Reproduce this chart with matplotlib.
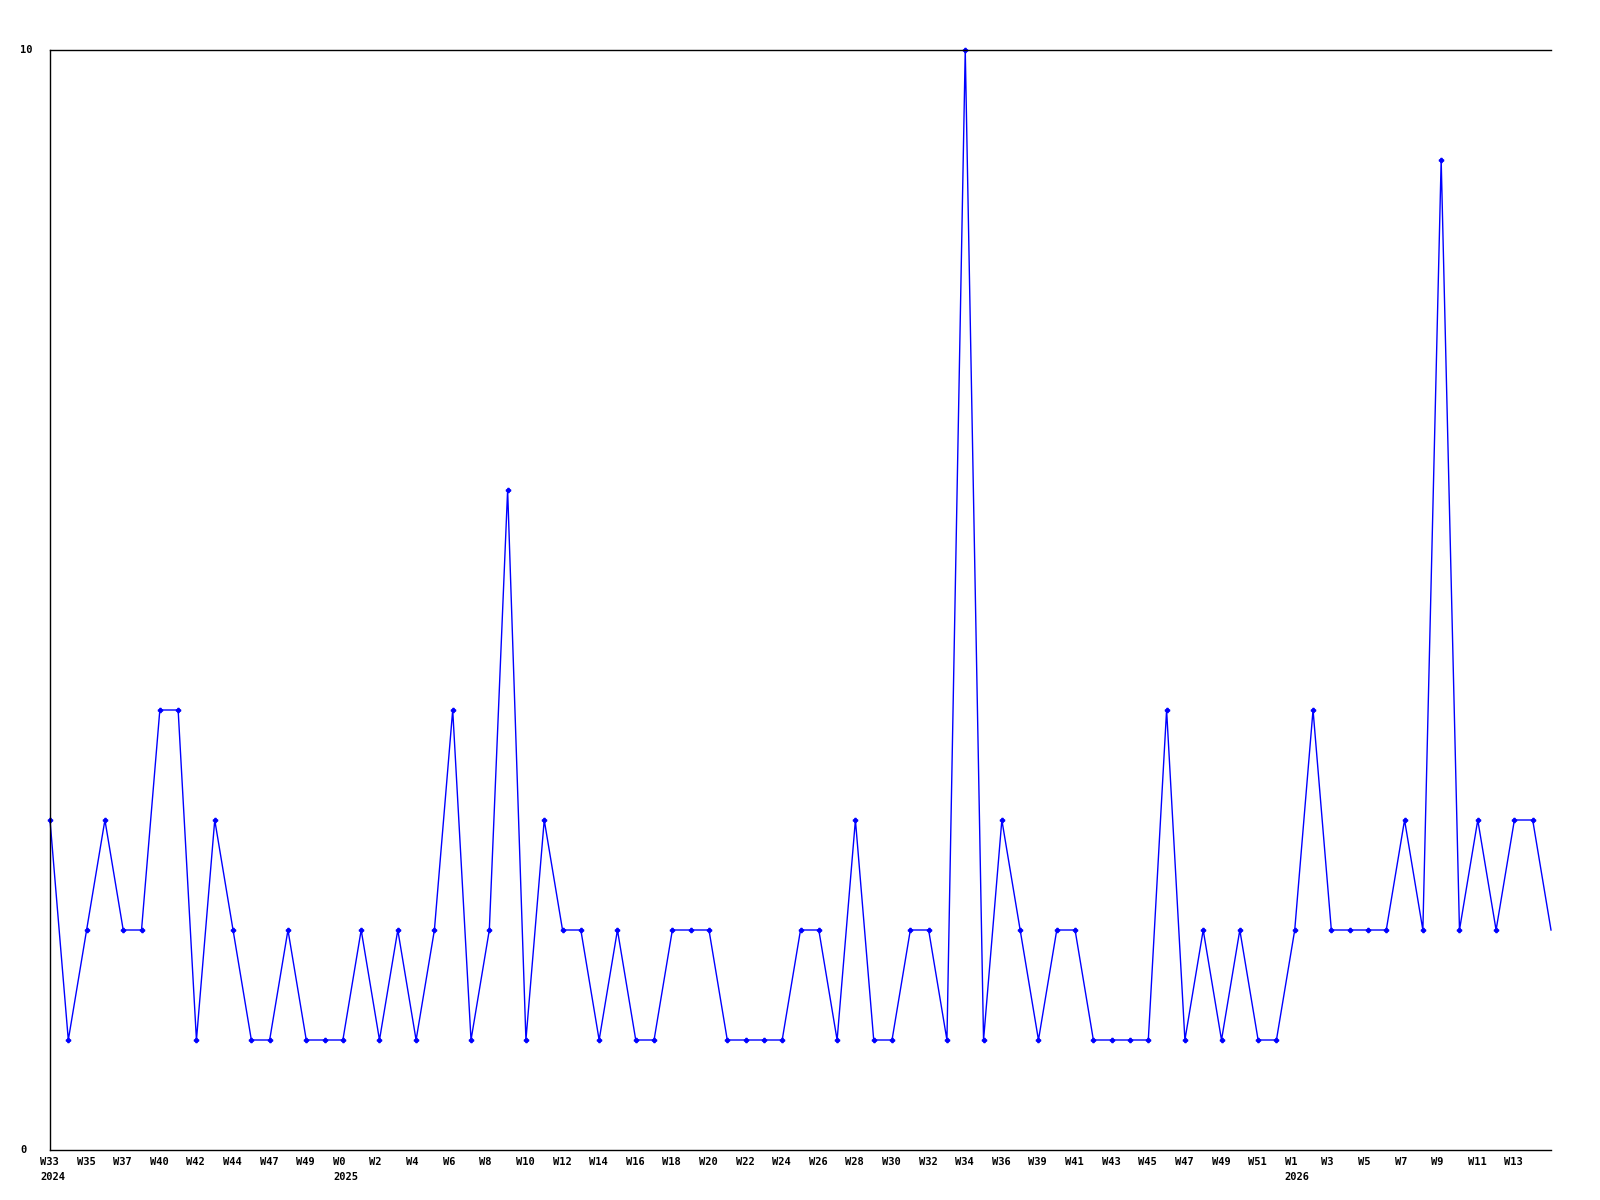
import matplotlib
matplotlib.use("Agg")
import matplotlib.pyplot as plt
import matplotlib.transforms as mtransforms

# weekly counts, W33 2024 .. W14 2026
counts = [3, 1, 2, 3, 2, 2, 4, 4, 1, 3,
          2, 1, 1, 2, 1, 1, 1, 2, 1, 2,
          1, 2, 4, 1, 2, 6, 1, 3, 2, 2,
          1, 2, 1, 1, 2, 2, 2, 1, 1, 1,
          1, 2, 2, 1, 3, 1, 1, 2, 2, 1,
          10, 1, 3, 2, 1, 2, 2, 1, 1, 1,
          1, 4, 1, 2, 1, 2, 1, 1, 2, 4,
          2, 2, 2, 2, 3, 2, 9, 2, 3, 2,
          3, 3, 2]

# one label every second week
week_labels = ["W33", "W35", "W37", "W40", "W42", "W44", "W47", "W49", "W0", "W2",
               "W4", "W6", "W8", "W10", "W12", "W14", "W16", "W18", "W20", "W22",
               "W24", "W26", "W28", "W30", "W32", "W34", "W36", "W39", "W41", "W43",
               "W45", "W47", "W49", "W51", "W1", "W3", "W5", "W7", "W9", "W11", "W13"]
# label index -> year shown under it
year_labels = {0: "2024", 8: "2025", 34: "2026"}

y_labels = ["0", "10"]

font = dict(family="DejaVu Sans Mono", fontweight="bold", fontsize=7.5)

fig = plt.figure(figsize=(16, 12), dpi=100)
ax = fig.add_axes([50 / 1600, 50 / 1200, 1501 / 1600, 1100 / 1200])

x = list(range(len(counts)))
ax.plot(x, counts, color="#0000ff", lw=1, marker="P", ms=3,
        markevery=list(range(len(counts) - 1)), clip_on=False)

ax.set_xlim(0, len(counts) - 1)
ax.set_ylim(0, 10)
ax.set_xticks([])
ax.set_yticks([])
ax.spines["right"].set_visible(False)
for s in ["left", "bottom", "top"]:
    ax.spines[s].set_linewidth(1)

# x labels, left aligned a bit before each point
trans = mtransforms.blended_transform_factory(ax.transData, ax.transAxes)
off = mtransforms.offset_copy(trans, fig=fig, x=-10, y=0, units="dots")
for k, lab in enumerate(week_labels):
    ax.text(2 * k, -12 / 1100, lab, transform=off, ha="left", va="center", **font)
    if k in year_labels:
        ax.text(2 * k, -27 / 1100, year_labels[k], transform=off,
                ha="left", va="center", **font)

# y labels at the left edge of the figure
ytr = mtransforms.blended_transform_factory(fig.transFigure, ax.transData)
for v, lab in zip([0, 10], y_labels):
    ax.text(20 / 1600, v, lab, transform=ytr, ha="left", va="center", **font)

fig.savefig("out.png", dpi=100)
